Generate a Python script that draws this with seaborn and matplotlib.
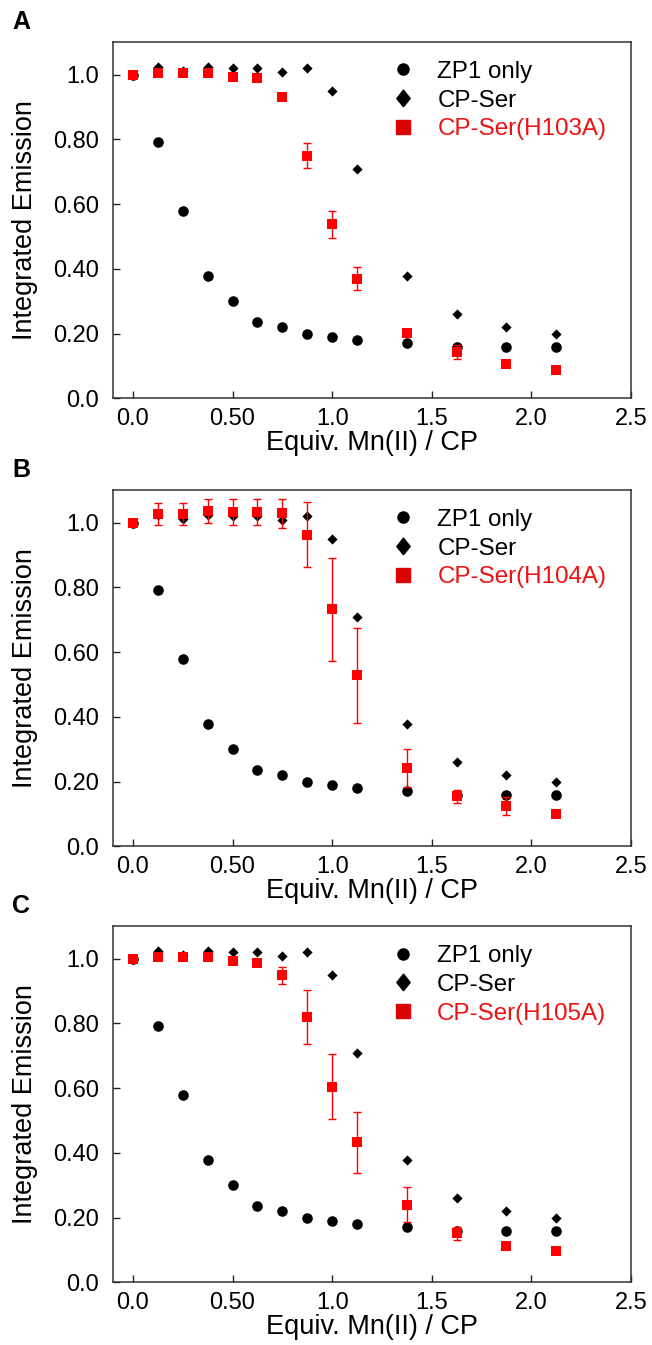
import numpy as np
import pandas as pd
import matplotlib
matplotlib.use('Agg')
import matplotlib.pyplot as plt
from matplotlib.lines import Line2D
import seaborn as sns

sns.set_theme(style='ticks')
plt.rcParams['font.family'] = ['Liberation Sans', 'DejaVu Sans']

# 데이터
equiv = [0.0, 0.125, 0.25, 0.375, 0.5, 0.625, 0.75, 0.875, 1.0, 1.125, 1.375, 1.625, 1.875, 2.125]

zp1_only = [1.0, 0.791, 0.579, 0.379, 0.301, 0.237, 0.221, 0.200, 0.188, 0.180, 0.172, 0.159, 0.158, 0.158]
cp_ser = [1.0, 1.023, 1.012, 1.023, 1.020, 1.020, 1.008, 1.020, 0.950, 0.707, 0.379, 0.259, 0.221, 0.200]

h103a = [1.0, 1.004, 1.004, 1.004, 0.994, 0.991, 0.931, 0.750, 0.537, 0.370, 0.202, 0.144, 0.106, 0.087]
h103a_err = [0.0, 0.005, 0.005, 0.005, 0.005, 0.005, 0.008, 0.038, 0.042, 0.036, 0.010, 0.022, 0.006, 0.006]

h104a = [1.0, 1.028, 1.028, 1.036, 1.034, 1.034, 1.029, 0.963, 0.732, 0.528, 0.242, 0.155, 0.124, 0.100]
h104a_err = [0.0, 0.034, 0.034, 0.038, 0.040, 0.040, 0.045, 0.100, 0.159, 0.147, 0.060, 0.020, 0.027, 0.005]

h105a = [0.998, 1.004, 1.004, 1.004, 0.992, 0.987, 0.949, 0.820, 0.604, 0.433, 0.239, 0.151, 0.112, 0.097]
h105a_err = [0.0, 0.005, 0.005, 0.005, 0.005, 0.005, 0.026, 0.084, 0.100, 0.094, 0.054, 0.020, 0.006, 0.006]

panels = [
    ('A', 'CP-Ser(H103A)', h103a, h103a_err),
    ('B', 'CP-Ser(H104A)', h104a, h104a_err),
    ('C', 'CP-Ser(H105A)', h105a, h105a_err),
]

x_ticks = [0.0, 0.5, 1.0, 1.5, 2.0, 2.5]
x_tick_labels = ['0.0', '0.50', '1.0', '1.5', '2.0', '2.5']
y_ticks = [0.0, 0.2, 0.4, 0.6, 0.8, 1.0]
y_tick_labels = ['0.0', '0.20', '0.40', '0.60', '0.80', '1.0']

RED = '#ff0000'

# 범례용 마름모 (조금 세로로 긴 형태)
legend_diamond = [(0, -1), (0.8, 0), (0, 1), (-0.8, 0), (0, -1)]

fig = plt.figure(figsize=(6.52, 13.45), dpi=100)

# 패널 위치 (figure 좌표)
bottoms = [0.7039, 0.3708, 0.0466]
left, width, height = 0.1733, 0.7945, 0.2647

for (letter, mut_label, mut, mut_err), bottom in zip(panels, bottoms):
    ax = fig.add_axes([left, bottom, width, height])
    df = pd.DataFrame({'equiv': equiv, 'zp1': zp1_only, 'cpser': cp_ser,
                       'mut': mut, 'err': mut_err})

    sns.scatterplot(data=df, x='equiv', y='cpser', marker='D', color='black',
                    s=27, linewidth=0, ax=ax, zorder=3)
    sns.scatterplot(data=df, x='equiv', y='zp1', marker='o', color='black',
                    s=58, linewidth=0, ax=ax, zorder=3)
    ax.errorbar(df['equiv'], df['mut'], yerr=df['err'], fmt='none',
                ecolor=RED, elinewidth=1.0, capsize=2.6, capthick=1.0, zorder=4)
    sns.scatterplot(data=df, x='equiv', y='mut', marker='s', color=RED,
                    s=58, linewidth=0, ax=ax, zorder=5)

    ax.set_xlim(-0.1, 2.5)
    ax.set_ylim(0.0, 1.1)
    ax.set_xticks(x_ticks)
    ax.set_xticklabels(x_tick_labels)
    ax.set_yticks(y_ticks)
    ax.set_yticklabels(y_tick_labels)
    ax.tick_params(direction='in', length=5, width=1.0, labelsize=17,
                   colors='#222222', labelcolor='black', top=False, right=False)
    ax.tick_params(axis='y', pad=10)
    ax.tick_params(axis='x', pad=7)
    for sp in ax.spines.values():
        sp.set_color('#333333')
        sp.set_linewidth(1.1)

    ax.set_xlabel('Equiv. Mn(II) / CP', fontsize=19.5, labelpad=0, color='black')
    ax.set_ylabel('Integrated Emission', fontsize=19.5, labelpad=11, color='black')

    handles = [
        Line2D([], [], linestyle='none', marker='o', color='black', markersize=8),
        Line2D([], [], linestyle='none', marker=legend_diamond, color='black',
               markersize=12),
        Line2D([], [], linestyle='none', marker='s', color='#dd0000', markersize=9.5),
    ]
    leg = ax.legend(handles, ['ZP1 only', 'CP-Ser', mut_label], loc='upper right',
                    frameon=False, fontsize=17.4, handlelength=1.0, handletextpad=0.9,
                    labelspacing=0.28, borderaxespad=0.3, bbox_to_anchor=(0.985, 0.995))
    leg.get_texts()[0].set_color('black')
    leg.get_texts()[1].set_color('black')
    leg.get_texts()[2].set_color('#ee1111')

    fig.text(left - 0.155, bottom + height + 0.006, letter, fontsize=18,
             fontweight='bold', ha='left', va='bottom', color='black')

plt.savefig('out.png', dpi=100)
